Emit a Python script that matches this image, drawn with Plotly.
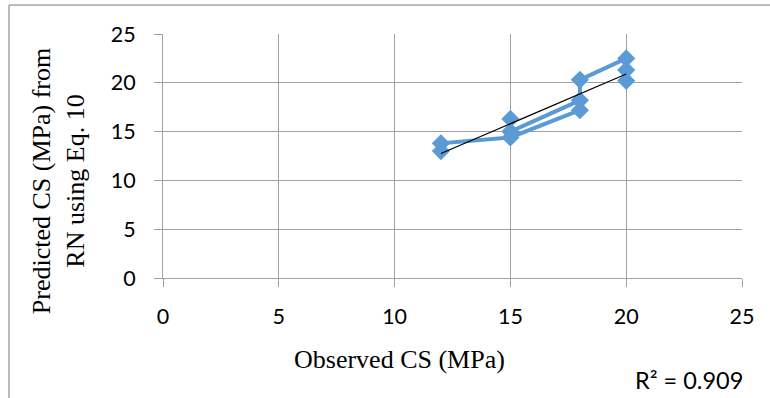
import numpy as np
import plotly.graph_objects as go

# Observed vs. predicted compressive strength (MPa); None splits the polyline
observed = [12, 12, 15, 18, None, 15, 15, 18, 18, 20, 20, 20]
predicted = [13.0, 13.8, 14.4, 17.2, None, 16.3, 15.0, 18.2, 20.3, 22.5, 21.3, 20.2]

x_ticks = [0, 5, 10, 15, 20, 25]
y_ticks = [0, 5, 10, 15, 20, 25]
r2_label = "R² = 0.909"

# Linear trendline fitted to the observed/predicted pairs
pairs = np.array([(o, p) for o, p in zip(observed, predicted) if o is not None], dtype=float)
slope, intercept = np.polyfit(pairs[:, 0], pairs[:, 1], 1)
trend_x = [pairs[:, 0].min(), pairs[:, 0].max()]
trend_y = [slope * v + intercept for v in trend_x]

BLUE = "#5b9bd5"
GRID = "#a0a0a0"

fig = go.Figure()
fig.add_trace(go.Scatter(
    x=observed, y=predicted, mode="lines+markers",
    line=dict(color=BLUE, width=4),
    marker=dict(symbol="diamond", size=14, color=BLUE),
    connectgaps=False, hoverinfo="skip", showlegend=False,
))
fig.add_trace(go.Scatter(
    x=trend_x, y=trend_y, mode="lines",
    line=dict(color="black", width=1.2),
    hoverinfo="skip", showlegend=False,
))

axis_common = dict(
    range=[0, 25], showgrid=True, gridcolor=GRID, gridwidth=1,
    zeroline=False, showline=True, linecolor=GRID, linewidth=1,
    ticks="outside", ticklen=8, tickcolor=GRID, tickwidth=1,
    tickfont=dict(family="Lato", size=21.5, color="black"),
)
fig.update_xaxes(tickvals=x_ticks, ticktext=[str(t) for t in x_ticks],
                 ticklabelstandoff=11, **axis_common)
fig.update_yaxes(tickvals=y_ticks, ticktext=[str(t) for t in y_ticks],
                 ticklabelstandoff=14, **axis_common)

serif = dict(family="Liberation Serif, Times New Roman, serif", size=26, color="black")

fig.add_annotation(
    text="Predicted CS (MPa) from<br>RN using Eq. 10",
    xref="paper", yref="paper", x=-0.181, y=0.3975,
    xanchor="center", yanchor="middle", textangle=-90,
    showarrow=False, font=serif,
)
fig.add_annotation(
    text="Observed CS (MPa)",
    xref="paper", yref="paper", x=0.409, y=-0.335,
    xanchor="center", yanchor="middle", showarrow=False, font=serif,
)
fig.add_annotation(
    text=r2_label,
    xref="paper", yref="paper", x=0.9085, y=-0.418,
    xanchor="center", yanchor="middle", showarrow=False,
    font=dict(family="Lato", size=23.5, color="black"),
)

# Chart-area frame along the top and left edges
for x0, y0, x1, y1 in [(-0.266, 1.119, 1.1, 1.119), (-0.266, 1.119, -0.266, -0.6)]:
    fig.add_shape(type="line", xref="paper", yref="paper",
                  x0=x0, y0=y0, x1=x1, y1=y1,
                  line=dict(color="#a6a6a6", width=1.5))

fig.update_layout(
    width=770, height=398,
    margin=dict(l=163, r=28, t=34, b=120),
    paper_bgcolor="white", plot_bgcolor="white",
    showlegend=False,
)

fig.write_html("out.html")
